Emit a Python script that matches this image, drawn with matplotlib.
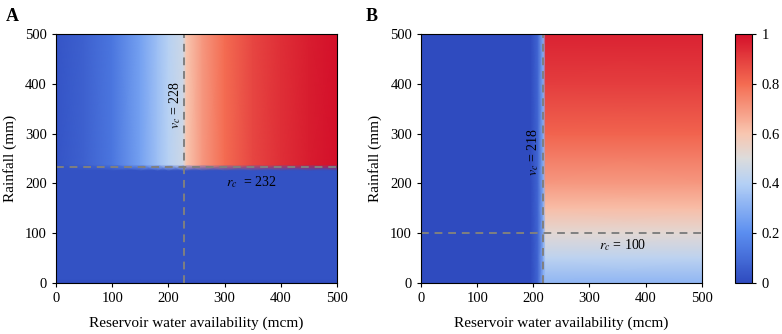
import numpy as np
import matplotlib
matplotlib.use("Agg")
import matplotlib.pyplot as plt
from matplotlib.colors import LinearSegmentedColormap

plt.rcParams['font.family'] = ['Liberation Serif', 'DejaVu Serif']
plt.rcParams['mathtext.fontset'] = 'stix'

# ---------------- data ----------------
# Panel A: probability vs reservoir availability (columns) and rainfall (rows)
res_a = [0, 50, 100, 150, 180, 200, 226, 232, 260, 300, 350, 400, 450, 500]
prob_a_high = [0.03, 0.07, 0.13, 0.26, 0.35, 0.41, 0.46, 0.60, 0.70, 0.80, 0.88, 0.93, 0.97, 1.00]
prob_a_low = 0.02
rain_a = [0, 8, 226, 238, 500]
vc_a, rc_a = 228, 232

# Panel B: probability vs rainfall for reservoir above threshold
res_b = [0, 195, 208, 218, 222, 500]
rain_b = [0, 50, 100, 150, 200, 300, 400, 500]
prob_b_right = [0.32, 0.42, 0.52, 0.62, 0.70, 0.82, 0.90, 0.96]
prob_b_edge = [0.0, 0.0, 0.08, 0.30]
vc_b, rc_b = 218, 100

ticks = [0, 100, 200, 300, 400, 500]
cbar_ticks = [0, 0.2, 0.4, 0.6, 0.8, 1]
cbar_labels = ['0', '0.2', '0.4', '0.6', '0.8', '1']

# ---------------- grids ----------------
Z_a = []
for r in rain_a:
    if r < 230:
        row = [prob_a_low] * len(res_a)
        if r == 0:
            row = [0.0] * len(res_a)
    else:
        row = list(prob_a_high)
    Z_a.append(row)
Z_a = np.array(Z_a)

Z_b = np.array([prob_b_edge + [p, p] for p in prob_b_right])

# blue-grey-red map close to the reference colorbar
cmap = LinearSegmentedColormap.from_list('bwr_ref', [
    (0.00, '#2f4bbf'),
    (0.20, '#5b8ef0'),
    (0.40, '#b4d0f5'),
    (0.50, '#dcdcdc'),
    (0.60, '#f8c6b0'),
    (0.80, '#f46c52'),
    (1.00, '#d4102a'),
])

# ---------------- plotting ----------------
fig = plt.figure(figsize=(7.82, 3.34), dpi=100)
ax_a = fig.add_axes([0.0716, 0.1527, 0.3593, 0.7455])
ax_b = fig.add_axes([0.5384, 0.1527, 0.3590, 0.7455])
cax = fig.add_axes([0.9400, 0.1527, 0.0220, 0.7455])

mesh = ax_a.pcolormesh(res_a, rain_a, Z_a, shading='gouraud', cmap=cmap, vmin=0, vmax=1)
ax_b.pcolormesh(res_b, rain_b, Z_b, shading='gouraud', cmap=cmap, vmin=0, vmax=1)

dash = dict(color='#808080', linestyle=(0, (4, 3)), linewidth=1.4)
for ax, vc, rc in [(ax_a, vc_a, rc_a), (ax_b, vc_b, rc_b)]:
    ax.axvline(vc, **dash)
    ax.axhline(rc, **dash)
    ax.set_xlim(0, 500)
    ax.set_ylim(0, 500)
    ax.set_xticks(ticks)
    ax.set_yticks(ticks)
    ax.tick_params(labelsize=10.5, length=3, width=0.8)
    ax.set_xlabel('Reservoir water availability (mcm)', fontsize=11, labelpad=8)
    ax.set_ylabel('Rainfall (mm)', fontsize=11, labelpad=6)

ax_a.text(212, 357, r'$v_c$ = 228', rotation=90, ha='center', va='center', fontsize=10)
ax_a.text(347, 203, r'$r_c$  = 232', ha='center', va='center', fontsize=10)
ax_b.text(200, 263, r'$v_c$ = 218', rotation=90, ha='center', va='center', fontsize=10)
ax_b.text(359, 76, r'$r_c$ = 100', ha='center', va='center', fontsize=10)

cb = fig.colorbar(mesh, cax=cax, ticks=cbar_ticks)
cb.ax.set_yticklabels(cbar_labels)
cb.ax.tick_params(labelsize=10.5, length=3, width=0.8)
cb.outline.set_linewidth(0.8)

fig.text(0.008, 0.975, 'A', fontsize=13, fontweight='bold', va='top', ha='left')
fig.text(0.468, 0.975, 'B', fontsize=13, fontweight='bold', va='top', ha='left')

fig.savefig('out.png', dpi=100)
